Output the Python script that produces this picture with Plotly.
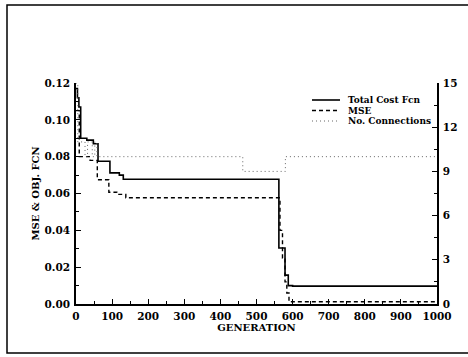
import plotly.graph_objects as go

# ---- data ----
cost_gen = [0, 4, 8, 13, 30, 48, 61, 94, 120, 131, 562, 579, 588, 600, 1000]
cost_val = [0.117, 0.112, 0.107, 0.090, 0.089, 0.087, 0.0775, 0.0712, 0.0700, 0.0677,
            0.0304, 0.0157, 0.0100, 0.0097, 0.0097]

mse_gen = [0, 9, 39, 59, 91, 113, 138, 565, 572, 579, 584, 590, 1000]
mse_val = [0.105, 0.080, 0.078, 0.0675, 0.0607, 0.0595, 0.0577, 0.040, 0.025, 0.012,
           0.006, 0.0012, 0.0012]

conn_gen = [0, 5, 25, 32, 45, 52, 58, 462, 580, 1000]
conn_val = [15, 11, 10, 11, 10, 11, 10, 9, 10, 10]

legend_names = ["Total Cost Fcn", "MSE", "No. Connections"]
x_ticks = [0, 100, 200, 300, 400, 500, 600, 700, 800, 900, 1000]
y_ticks = [0.00, 0.02, 0.04, 0.06, 0.08, 0.10, 0.12]
y2_ticks = [0, 3, 6, 9, 12, 15]

FONT = "DejaVu Serif"
W, H = 468, 357
L, R, T, B = 76, 31, 83, 53
pw, ph = W - L - R, H - T - B

def px2paper(x, y):
    return (x - L) / pw, (H - B - y) / ph

fig = go.Figure()
fig.add_trace(go.Scatter(x=cost_gen, y=cost_val, mode="lines", line_shape="hv",
                         line=dict(color="black", width=1.6), name=legend_names[0],
                         showlegend=False))
fig.add_trace(go.Scatter(x=mse_gen, y=mse_val, mode="lines", line_shape="hv",
                         line=dict(color="black", width=1.4, dash="4px,3px"),
                         name=legend_names[1], showlegend=False))
fig.add_trace(go.Scatter(x=conn_gen, y=conn_val, mode="lines", line_shape="hv",
                         line=dict(color="#666666", width=1, dash="1px,3px"),
                         name=legend_names[2], yaxis="y2", showlegend=False))

tickfont = dict(family=FONT, size=10.5, color="black", weight="bold")
titlefont = dict(family=FONT, size=10, color="black", weight="bold")

fig.update_layout(
    width=W, height=H,
    margin=dict(l=L, r=R, t=T, b=B, autoexpand=False),
    paper_bgcolor="white", plot_bgcolor="white",
    showlegend=False,
    xaxis=dict(range=[0, 1000], tickvals=x_ticks, showgrid=False, zeroline=False,
               showline=True, linecolor="black", linewidth=1.5,
               ticks="inside", ticklen=5, tickwidth=1, tickcolor="black",
               minor=dict(dtick=50, ticks="inside", ticklen=3, tickcolor="black"),
               tickfont=tickfont, ticklabelstandoff=2,
               title=dict(text="GENERATION", font=titlefont, standoff=1)),
    yaxis=dict(range=[0, 0.12], tickvals=y_ticks, tickformat=".2f", showgrid=False,
               zeroline=False, showline=True, linecolor="black", linewidth=1.5,
               ticks="inside", ticklen=5, tickwidth=1, tickcolor="black",
               minor=dict(dtick=0.01, ticks="inside", ticklen=3, tickcolor="black"),
               tickfont=tickfont, ticklabelstandoff=2,
               title=dict(text="MSE & OBJ. FCN", font=titlefont, standoff=3)),
    yaxis2=dict(range=[0, 15], tickvals=y2_ticks, overlaying="y", side="right",
                showgrid=False, zeroline=False, showline=True, linecolor="black",
                linewidth=1.5, ticks="inside", ticklen=5, tickwidth=1, tickcolor="black",
                minor=dict(dtick=1.5, ticks="inside", ticklen=3, tickcolor="black"),
                tickfont=tickfont, ticklabelstandoff=2),
)

# outer frame
x0, y0 = px2paper(7, 5)
x1, y1 = px2paper(475, 353)
fig.add_shape(type="rect", xref="paper", yref="paper", x0=x0, y0=y1, x1=x1, y1=y0,
              line=dict(color="black", width=1.5), fillcolor="rgba(0,0,0,0)")

# manual legend
styles = [dict(color="black", width=1.6),
          dict(color="black", width=1.4, dash="4px,3px"),
          dict(color="#666666", width=1, dash="1px,3px")]
rows_y = [100, 110.5, 121]
for name, st, ry in zip(legend_names, styles, rows_y):
    lx0, ly = px2paper(312, ry)
    lx1, _ = px2paper(340, ry)
    fig.add_shape(type="line", xref="paper", yref="paper", x0=lx0, x1=lx1, y0=ly, y1=ly,
                  line=st)
    tx, _ = px2paper(346, ry)
    fig.add_annotation(text=name, xref="paper", yref="paper", x=tx, y=ly,
                       xanchor="left", yanchor="middle", showarrow=False,
                       font=dict(family=FONT, size=9, color="black", weight="bold"))

fig.write_html("out.html", config={"displayModeBar": False},
               post_script="document.body.style.margin='0';document.body.style.overflow='hidden';")
